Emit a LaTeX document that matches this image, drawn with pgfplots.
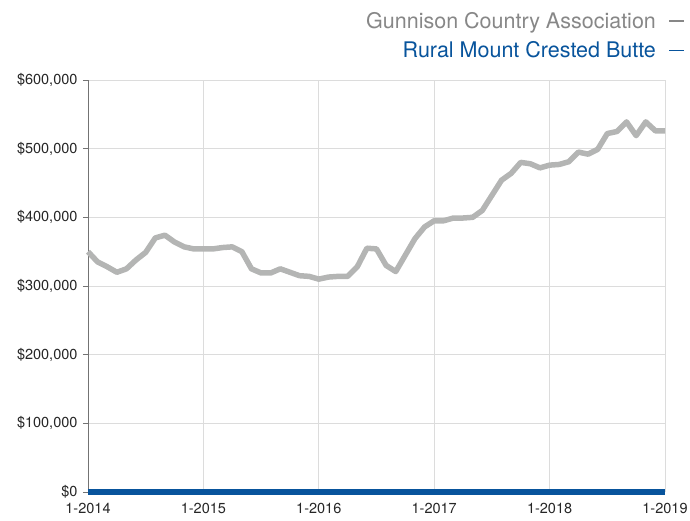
\documentclass[border=0pt]{standalone}
\usepackage{pgfplots}
\pgfplotsset{compat=1.18}
\usepackage{fontspec}
\setmainfont{TeX Gyre Heros}
\definecolor{gline}{RGB}{180,181,180}
\definecolor{bline}{RGB}{8,84,156}
\definecolor{gtext}{RGB}{135,135,135}
\definecolor{gridc}{RGB}{220,220,220}
\begin{document}
\begin{tikzpicture}
\useasboundingbox (-88pt,-29pt) rectangle (602pt,492pt);
\begin{axis}[
  at={(0,0)}, anchor=south west,
  scale only axis, width=577pt, height=412pt,
  xmin=0, xmax=60, ymin=0, ymax=600000,
  scaled y ticks=false,
  clip=false,
  axis x line*=bottom, axis y line*=left,
  x axis line style={draw=none},
  y axis line style={draw=black!55, line width=0.8pt},
  xtick={0,12,24,36,48,60},
  xticklabels={1-2014,1-2015,1-2016,1-2017,1-2018,1-2019},
  ytick={0,100000,200000,300000,400000,500000,600000},
  yticklabels={{\$0},{\$100,000},{\$200,000},{\$300,000},{\$400,000},{\$500,000},{\$600,000}},
  xmajorgrids, ymajorgrids,
  grid style={gridc, line width=0.8pt},
  xtick style={draw=none},
  ytick style={draw=black!55, line width=0.8pt},
  tick align=outside, major tick length=5pt,
  ticklabel style={font=\fontsize{14.5}{16}\selectfont, text=black!85},
  yticklabel style={xshift=-2pt},
  xticklabel style={yshift=-3pt},
  legend style={draw=none, fill=none, at={(1.0347,1.17)}, anchor=north east,
    font=\fontsize{21.5}{24}\selectfont, row sep=8pt, inner sep=0pt},
  legend cell align=right,
  legend plot pos=right,
  legend image code/.code={\path (0cm,0cm); \draw[#1, line width=1.6pt] (0.3cm,0cm) -- (0.82cm,0cm);},
]
\addplot[gline, line width=5.5pt, line join=round, legend image post style={draw=gtext}] coordinates {
(0,350000)(1,335000)(2,328000)(3,320000)(4,325000)(5,338000)(6,349000)(7,370000)(8,374000)(9,364000)
(10,357000)(11,354000)(12,354000)(13,354000)(14,356000)(15,357000)(16,350000)(17,325000)(18,319000)(19,319000)
(20,325000)(21,320000)(22,315000)(23,314000)(24,310000)(25,313000)(26,314000)(27,314000)(28,328000)(29,355000)
(30,354000)(31,330000)(32,321000)(33,345000)(34,369000)(35,386000)(36,395000)(37,395000)(38,399000)(39,399000)
(40,400000)(41,410000)(42,432000)(43,454000)(44,464000)(45,480000)(46,478000)(47,472000)(48,476000)(49,477000)
(50,481000)(51,495000)(52,492000)(53,499000)(54,522000)(55,525000)(56,539000)(57,519000)(58,539000)(59,526000)
(60,526000)};
\addlegendentry{\textcolor{gtext}{Gunnison Country Association}}
\addplot[bline, line width=5.5pt] coordinates {
(0,0)(12,0)(24,0)(36,0)(48,0)(60,0)};
\addlegendentry{\textcolor{bline}{Rural Mount Crested Butte}}
\end{axis}
\end{tikzpicture}
\end{document}
